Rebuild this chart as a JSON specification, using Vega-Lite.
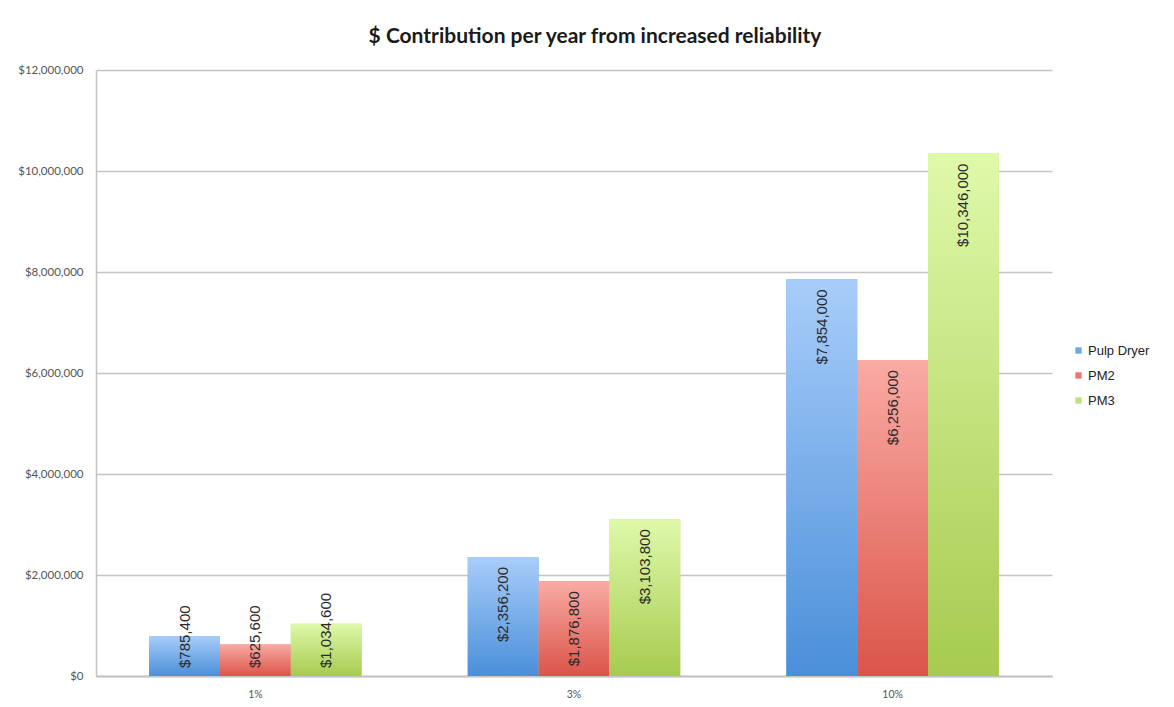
{
  "$schema": "https://vega.github.io/schema/vega-lite/v6.json",
  "width": 956,
  "height": 606,
  "autosize": {"type": "none"},
  "padding": {"left": 96, "top": 70, "right": 122, "bottom": 31},
  "background": "white",
  "title": {
    "text": "$ Contribution per year from increased reliability",
    "font": "Lato",
    "fontSize": 21,
    "fontWeight": "bold",
    "color": "#1a1a1a",
    "anchor": "middle",
    "dx": 21,
    "offset": 17
  },
  "data": {
    "values": [
      {"level": "1%", "series": "Pulp Dryer", "value": 785400},
      {"level": "1%", "series": "PM2", "value": 625600},
      {"level": "1%", "series": "PM3", "value": 1034600},
      {"level": "3%", "series": "Pulp Dryer", "value": 2356200},
      {"level": "3%", "series": "PM2", "value": 1876800},
      {"level": "3%", "series": "PM3", "value": 3103800},
      {"level": "10%", "series": "Pulp Dryer", "value": 7854000},
      {"level": "10%", "series": "PM2", "value": 6256000},
      {"level": "10%", "series": "PM3", "value": 10346000}
    ]
  },
  "encoding": {
    "x": {
      "field": "level",
      "type": "nominal",
      "sort": ["1%", "3%", "10%"],
      "scale": {"paddingInner": 0.333, "paddingOuter": 0.1667},
      "axis": {
        "title": null,
        "labelAngle": 0,
        "labelFont": "Lato",
        "labelFontSize": 10.5,
        "labelColor": "#555555",
        "labelPadding": 13,
        "ticks": false,
        "domainColor": "#c4c4c4",
        "domainWidth": 2
      }
    },
    "xOffset": {
      "field": "series",
      "type": "nominal",
      "sort": ["Pulp Dryer", "PM2", "PM3"],
      "scale": {"domain": ["Pulp Dryer", "PM2", "PM3"], "paddingInner": 0, "paddingOuter": 0}
    },
    "y": {
      "field": "value",
      "type": "quantitative",
      "scale": {"domain": [0, 12000000], "nice": false},
      "axis": {
        "title": null,
        "values": [0, 2000000, 4000000, 6000000, 8000000, 10000000, 12000000],
        "format": "$,.0f",
        "labelFont": "Lato",
        "labelFontSize": 11.5,
        "labelColor": "#555555",
        "labelPadding": 13,
        "ticks": false,
        "grid": true,
        "gridColor": "#c4c4c4",
        "gridWidth": 1.5,
        "domainColor": "#c4c4c4",
        "domainWidth": 1.5
      }
    }
  },
  "layer": [
    {
      "mark": {"type": "bar"},
      "encoding": {
        "fill": {
          "field": "series",
          "type": "nominal",
          "scale": {
            "domain": ["Pulp Dryer", "PM2", "PM3"],
            "range": ["#6ea7e8", "#e8776d", "#bfe07a"]
          },
          "legend": {
            "title": null,
            "orient": "none",
            "legendX": 976,
            "legendY": 274,
            "symbolType": "square",
            "symbolSize": 40,
            "symbolStrokeWidth": 0,
            "labelFont": "Liberation Sans",
            "labelFontSize": 13,
            "labelColor": "#222222",
            "labelOffset": 3,
            "rowPadding": 11
          }
        }
      }
    },
    {
      "transform": [{"filter": "datum.series === 'Pulp Dryer'"}],
      "mark": {
        "type": "bar",
        "color": {"gradient": "linear", "x1": 0, "y1": 1, "x2": 0, "y2": 0,
          "stops": [{"offset": 0, "color": "#4a8fd9"}, {"offset": 1, "color": "#a8cdfa"}]}
      }
    },
    {
      "transform": [{"filter": "datum.series === 'PM2'"}],
      "mark": {
        "type": "bar",
        "color": {"gradient": "linear", "x1": 0, "y1": 1, "x2": 0, "y2": 0,
          "stops": [{"offset": 0, "color": "#db5449"}, {"offset": 1, "color": "#f9aba4"}]}
      }
    },
    {
      "transform": [{"filter": "datum.series === 'PM3'"}],
      "mark": {
        "type": "bar",
        "color": {"gradient": "linear", "x1": 0, "y1": 1, "x2": 0, "y2": 0,
          "stops": [{"offset": 0, "color": "#a6cb4f"}, {"offset": 1, "color": "#dff9aa"}]}
      }
    },
    {
      "transform": [{"filter": "datum.value >= 1500000"}],
      "mark": {
        "type": "text",
        "angle": 270,
        "align": "right",
        "baseline": "middle",
        "dx": -10,
        "font": "Liberation Sans",
        "fontSize": 15,
        "color": "#2b2b2b"
      },
      "encoding": {
        "text": {"field": "value", "type": "quantitative", "format": "$,.0f"}
      }
    },
    {
      "transform": [{"filter": "datum.value < 1500000"}],
      "mark": {
        "type": "text",
        "angle": 270,
        "align": "left",
        "baseline": "middle",
        "dx": 8,
        "font": "Liberation Sans",
        "fontSize": 15,
        "color": "#2b2b2b"
      },
      "encoding": {
        "y": {"datum": 0, "type": "quantitative"},
        "text": {"field": "value", "type": "quantitative", "format": "$,.0f"}
      }
    }
  ],
  "config": {"view": {"stroke": null}}
}
